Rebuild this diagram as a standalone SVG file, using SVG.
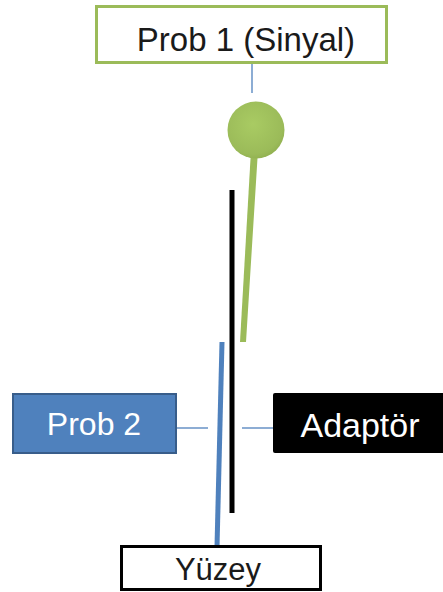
<svg xmlns="http://www.w3.org/2000/svg" width="443" height="592" viewBox="0 0 443 592">
<style>
.t{font-family:"Liberation Sans",Arial,sans-serif;text-anchor:middle}
.conn{stroke:#4F81BD;stroke-width:1.3;fill:none}
</style>
<defs>
<radialGradient id="ball" cx="0.45" cy="0.4" r="0.65">
<stop offset="0" stop-color="#A9CB63"/>
<stop offset="0.8" stop-color="#9BBB59"/>
<stop offset="1" stop-color="#8EAD4E"/>
</radialGradient>
</defs>
<rect width="443" height="592" fill="#ffffff"/>
<g id="connectors">
<line class="conn" x1="252" y1="63" x2="252" y2="93"/>
<line class="conn" x1="177" y1="428" x2="208" y2="428"/>
<line class="conn" x1="242" y1="428" x2="273" y2="428"/>
</g>
<g id="prob1">
<rect x="96.5" y="6.5" width="290" height="56" fill="#ffffff" stroke="#9BBB59" stroke-width="3"/>
<text class="t" x="246" y="51" font-size="33" fill="#1a1a1a">Prob 1 (Sinyal)</text>
</g>
<g id="prob1-stem">
<polygon points="251,150 258,150 246,342 240,342" fill="#9BBB59"/>
<circle cx="256" cy="130" r="28.5" fill="url(#ball)"/>
</g>
<g id="adaptor-line">
<line x1="232" y1="190" x2="232" y2="513" stroke="#000" stroke-width="5"/>
</g>
<g id="prob2-line">
<line x1="222" y1="342" x2="217" y2="547" stroke="#4F81BD" stroke-width="5"/>
</g>
<g id="prob2">
<rect x="13" y="394" width="163" height="59" fill="#4F81BD" stroke="#385D8A" stroke-width="2"/>
<text class="t" x="94" y="435" font-size="32" fill="#ffffff">Prob 2</text>
</g>
<g id="adaptor">
<rect x="273" y="393" width="172" height="60" rx="2" fill="#000000"/>
<text class="t" x="360" y="437" font-size="34" fill="#ffffff">Adaptör</text>
</g>
<g id="yuzey">
<rect x="121.5" y="546.5" width="199" height="43" fill="#ffffff" stroke="#000" stroke-width="3"/>
<text class="t" x="218" y="580" font-size="31" fill="#1a1a1a">Yüzey</text>
</g>
</svg>
